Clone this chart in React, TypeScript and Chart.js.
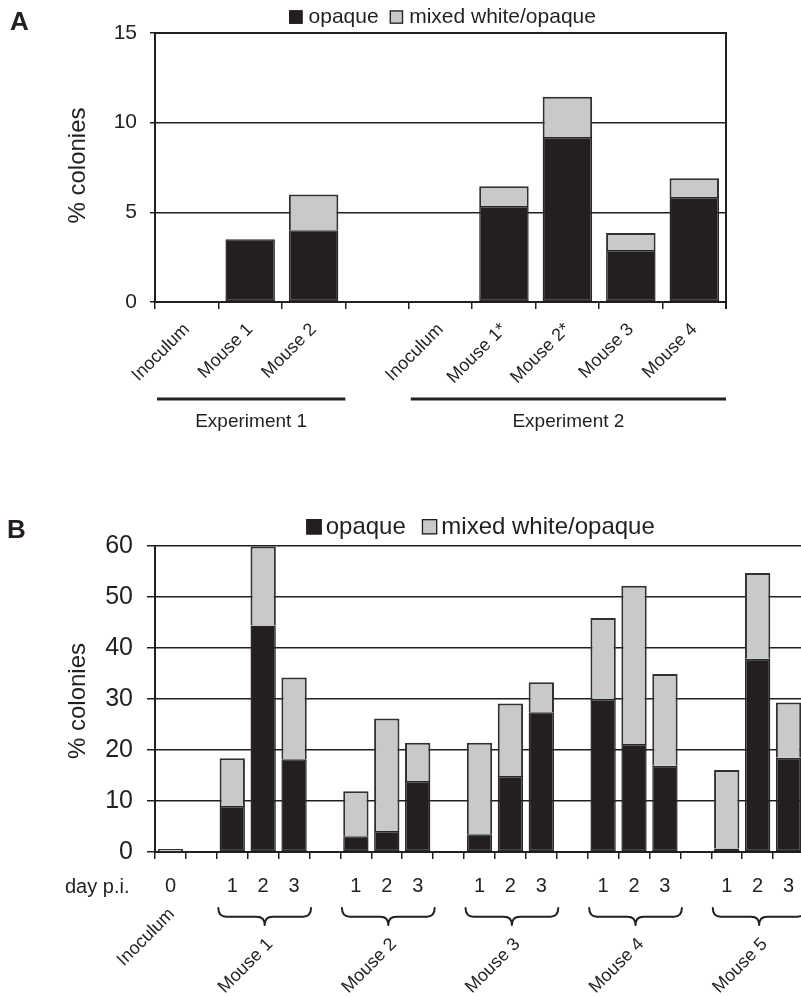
import React, { useEffect, useRef } from 'react';
import { Chart, registerables } from 'chart.js';

Chart.register(...registerables);

const INK = '#231f20';
const GREY = '#c8c9cb';
const FONT = '"Liberation Sans", Arial, Helvetica, sans-serif';

// ---------- Panel A data ----------
const A_CATEGORIES = ['Inoculum', 'Mouse 1', 'Mouse 2', '', 'Inoculum', 'Mouse 1*', 'Mouse 2*', 'Mouse 3', 'Mouse 4'];
const A_OPAQUE = [0, 3.5, 4.0, 0, 0, 5.35, 9.2, 2.9, 5.85];
const A_MIXED = [0, 0, 2.0, 0, 0, 1.1, 2.25, 0.95, 1.05];
const A_Y_TICKS = [0, 5, 10, 15];
const A_EXPERIMENTS = [
  { label: 'Experiment 1', from: 0, to: 2 },
  { label: 'Experiment 2', from: 4, to: 8 },
];

// ---------- Panel B data ----------
const B_CATEGORIES = [
  'Inoculum d0', 'gap1',
  'Mouse 1 d1', 'Mouse 1 d2', 'Mouse 1 d3', 'gap2',
  'Mouse 2 d1', 'Mouse 2 d2', 'Mouse 2 d3', 'gap3',
  'Mouse 3 d1', 'Mouse 3 d2', 'Mouse 3 d3', 'gap4',
  'Mouse 4 d1', 'Mouse 4 d2', 'Mouse 4 d3', 'gap5',
  'Mouse 5 d1', 'Mouse 5 d2', 'Mouse 5 d3',
];
const B_DAY_TICKS = ['0', '', '1', '2', '3', '', '1', '2', '3', '', '1', '2', '3', '', '1', '2', '3', '', '1', '2', '3'];
const B_OPAQUE = [0, 0, 9.0, 44.4, 18.2, 0, 3.1, 4.1, 13.9, 0, 3.5, 14.9, 27.4, 0, 30.0, 21.2, 16.9, 0, 0.7, 37.9, 18.5];
const B_MIXED = [0.6, 0, 9.4, 15.5, 16.0, 0, 8.8, 22.1, 7.5, 0, 17.9, 14.2, 5.9, 0, 15.9, 31.0, 18.0, 0, 15.4, 16.8, 10.8];
const B_Y_TICKS = [0, 10, 20, 30, 40, 50, 60];
const B_INOCULUM = { label: 'Inoculum', index: 0 };
const B_GROUPS = [
  { label: 'Mouse 1', from: 2, to: 4 },
  { label: 'Mouse 2', from: 6, to: 8 },
  { label: 'Mouse 3', from: 10, to: 12 },
  { label: 'Mouse 4', from: 14, to: 16 },
  { label: 'Mouse 5', from: 18, to: 20 },
];

const SERIES = ['opaque', 'mixed white/opaque'];

function makeDatasets(opaque: number[], mixed: number[], barPct: number) {
  return [
    {
      label: SERIES[0], data: opaque, backgroundColor: INK, borderColor: '#2a2728',
      borderWidth: 1.5, borderSkipped: false, stack: 's', barPercentage: barPct, categoryPercentage: 1,
    },
    {
      label: SERIES[1], data: mixed, backgroundColor: GREY, borderColor: '#333032',
      borderWidth: 2, borderSkipped: 'start', stack: 's', barPercentage: barPct, categoryPercentage: 1,
    },
  ];
}

function drawLegend(ctx: CanvasRenderingContext2D, cx: number, baseline: number, px: number, box: number, gapBoxText: number, gapItems: number) {
  ctx.save();
  ctx.font = `${px}px ${FONT}`;
  const w0 = ctx.measureText(SERIES[0]).width;
  const w1 = ctx.measureText(SERIES[1]).width;
  const total = box + gapBoxText + w0 + gapItems + box + gapBoxText + w1;
  let x = cx - total / 2;
  const boxBottom = baseline + 1;
  const fills = [INK, GREY];
  const widths = [w0, w1];
  for (let i = 0; i < 2; i++) {
    ctx.fillStyle = fills[i];
    ctx.fillRect(x, boxBottom - box, box, box);
    ctx.strokeStyle = INK;
    ctx.lineWidth = 1.3;
    ctx.strokeRect(x + 0.65, boxBottom - box + 0.65, box - 1.3, box - 1.3);
    x += box + gapBoxText;
    ctx.fillStyle = INK;
    ctx.textAlign = 'left';
    ctx.textBaseline = 'alphabetic';
    ctx.fillText(SERIES[i], x, baseline);
    x += widths[i] + gapItems;
  }
  ctx.restore();
}

function drawYTitle(ctx: CanvasRenderingContext2D, x: number, cy: number, px: number) {
  ctx.save();
  ctx.translate(x, cy);
  ctx.rotate(-Math.PI / 2);
  ctx.font = `${px}px ${FONT}`;
  ctx.fillStyle = INK;
  ctx.textAlign = 'center';
  ctx.textBaseline = 'alphabetic';
  ctx.fillText('% colonies', 0, 0);
  ctx.restore();
}

function drawLetter(ctx: CanvasRenderingContext2D, letter: string, x: number, baseline: number) {
  ctx.save();
  ctx.font = `bold 26px ${FONT}`;
  ctx.fillStyle = INK;
  ctx.textAlign = 'left';
  ctx.textBaseline = 'alphabetic';
  ctx.fillText(letter, x, baseline);
  ctx.restore();
}

function rotatedLabel(ctx: CanvasRenderingContext2D, text: string, x: number, y: number, px: number) {
  ctx.save();
  ctx.translate(x, y);
  ctx.rotate(-Math.PI / 4);
  ctx.font = `${px}px ${FONT}`;
  ctx.fillStyle = INK;
  ctx.textAlign = 'right';
  ctx.textBaseline = 'alphabetic';
  ctx.fillText(text, 0, 0);
  ctx.restore();
}

function drawBrace(ctx: CanvasRenderingContext2D, x0: number, x1: number, top: number, mid: number, tip: number) {
  const cx = (x0 + x1) / 2;
  const r = 8;
  ctx.save();
  ctx.strokeStyle = INK;
  ctx.lineWidth = 2;
  ctx.lineJoin = 'round';
  ctx.lineCap = 'round';
  ctx.beginPath();
  ctx.moveTo(x0, top);
  ctx.quadraticCurveTo(x0, mid, x0 + r, mid);
  ctx.lineTo(cx - r, mid);
  ctx.quadraticCurveTo(cx, mid, cx, tip);
  ctx.quadraticCurveTo(cx, mid, cx + r, mid);
  ctx.lineTo(x1 - r, mid);
  ctx.quadraticCurveTo(x1, mid, x1, top);
  ctx.stroke();
  ctx.restore();
}

const decorA = {
  id: 'decorA',
  afterDraw(chart: any) {
    const { ctx, chartArea } = chart;
    const xs = chart.scales.x;
    const half = (xs.getPixelForValue(1) - xs.getPixelForValue(0)) / 2;
    ctx.save();
    ctx.strokeStyle = INK;
    ctx.lineWidth = 2;
    ctx.beginPath();
    ctx.moveTo(chartArea.left, chartArea.top);
    ctx.lineTo(chartArea.right, chartArea.top);
    ctx.lineTo(chartArea.right, chartArea.bottom + 7);
    ctx.stroke();
    ctx.restore();

    drawLegend(ctx, (chartArea.left + chartArea.right) / 2 + 2, 22.8, 21, 13.5, 6, 11);
    drawYTitle(ctx, 85, (chartArea.top + chartArea.bottom) / 2 - 2, 24);
    drawLetter(ctx, 'A', 10, 29.5);

    A_EXPERIMENTS.forEach((e) => {
      const x0 = xs.getPixelForValue(e.from) - half + 2;
      const x1 = xs.getPixelForValue(e.to) + half;
      ctx.save();
      ctx.strokeStyle = INK;
      ctx.lineWidth = 3;
      ctx.beginPath();
      ctx.moveTo(x0, 399);
      ctx.lineTo(x1, 399);
      ctx.stroke();
      ctx.font = `19px ${FONT}`;
      ctx.fillStyle = INK;
      ctx.textAlign = 'center';
      ctx.textBaseline = 'alphabetic';
      ctx.fillText(e.label, (x0 + x1) / 2, 427);
      ctx.restore();
    });
  },
};

const decorB = {
  id: 'decorB',
  afterDraw(chart: any) {
    const { ctx, chartArea } = chart;
    const xs = chart.scales.x;
    const half = (xs.getPixelForValue(1) - xs.getPixelForValue(0)) / 2;

    drawLegend(ctx, (chartArea.left + chartArea.right) / 2 + 1, 83.5, 24, 15.5, 4, 16);
    drawYTitle(ctx, 85, (chartArea.top + chartArea.bottom) / 2 + 2, 24);
    drawLetter(ctx, 'B', 7, 88.3);

    ctx.save();
    ctx.font = `20px ${FONT}`;
    ctx.fillStyle = INK;
    ctx.textAlign = 'left';
    ctx.textBaseline = 'alphabetic';
    ctx.fillText('day p.i.', 65, 442.7);
    ctx.restore();

    rotatedLabel(ctx, B_INOCULUM.label, xs.getPixelForValue(B_INOCULUM.index) + 5, 465, 18);

    B_GROUPS.forEach((g) => {
      const x0 = xs.getPixelForValue(g.from) - half + 1.5;
      const x1 = xs.getPixelForValue(g.to) + half + 1.5;
      drawBrace(ctx, x0, x1, 458, 466.7, 475);
      const cx = (xs.getPixelForValue(g.from) + xs.getPixelForValue(g.to)) / 2;
      rotatedLabel(ctx, g.label, cx + 10.5, 495, 18);
    });
  },
};

function yTicksSetter(values: number[]) {
  return (scale: any) => {
    scale.ticks = values.map((v) => ({ value: v }));
  };
}

export default function App() {
  const refA = useRef<HTMLCanvasElement | null>(null);
  const refB = useRef<HTMLCanvasElement | null>(null);

  useEffect(() => {
    Chart.defaults.font.family = FONT;
    Chart.defaults.color = INK;

    const chartA = new Chart(refA.current as HTMLCanvasElement, {
      type: 'bar',
      data: { labels: A_CATEGORIES, datasets: makeDatasets(A_OPAQUE, A_MIXED, 0.78) as any },
      options: {
        responsive: false,
        animation: false,
        devicePixelRatio: 1,
        layout: { padding: { top: 33, right: 75, bottom: 0, left: 0 } },
        plugins: { legend: { display: false }, tooltip: { enabled: false } },
        scales: {
          x: {
            stacked: true,
            offset: true,
            grid: { display: true, drawOnChartArea: false, drawTicks: true, tickLength: 7, offset: true, color: INK, lineWidth: 1.5 },
            border: { display: true, color: INK, width: 2 },
            ticks: { autoSkip: false, minRotation: 45, maxRotation: 45, padding: 10, color: INK, font: { size: 18, family: FONT } },
            afterFit: (s: any) => { s.height = 148; },
          },
          y: {
            stacked: true,
            min: 0,
            max: 15,
            afterBuildTicks: yTicksSetter(A_Y_TICKS),
            grid: { display: true, drawTicks: true, tickLength: 5, color: INK, lineWidth: 1.5 },
            border: { display: true, color: INK, width: 2 },
            ticks: { padding: 13, color: INK, font: { size: 21, family: FONT } },
            afterFit: (s: any) => { s.width = 155; },
          },
        },
      } as any,
      plugins: [decorA],
    });

    const chartB = new Chart(refB.current as HTMLCanvasElement, {
      type: 'bar',
      data: { labels: B_CATEGORIES, datasets: makeDatasets(B_OPAQUE, B_MIXED, 0.82) as any },
      options: {
        responsive: false,
        animation: false,
        devicePixelRatio: 1,
        layout: { padding: { top: 96, right: 26, bottom: 0, left: 0 } },
        plugins: { legend: { display: false }, tooltip: { enabled: false } },
        scales: {
          x: {
            stacked: true,
            offset: true,
            grid: { display: true, drawOnChartArea: false, drawTicks: true, tickLength: 7, offset: true, color: INK, lineWidth: 1.5 },
            border: { display: true, color: INK, width: 2 },
            ticks: {
              autoSkip: false, minRotation: 0, maxRotation: 0, padding: 15, color: INK,
              font: { size: 20, family: FONT },
              callback: (_v: any, i: number) => B_DAY_TICKS[i],
            },
            afterFit: (s: any) => { s.height = 144; },
          },
          y: {
            stacked: true,
            min: 0,
            max: 60,
            afterBuildTicks: yTicksSetter(B_Y_TICKS),
            grid: { display: true, drawTicks: true, tickLength: 8, color: INK, lineWidth: 1.5 },
            border: { display: true, color: INK, width: 2 },
            ticks: { padding: 14, color: INK, font: { size: 25, family: FONT } },
            afterFit: (s: any) => { s.width = 155; },
          },
        },
      } as any,
      plugins: [decorB],
    });

    return () => {
      chartA.destroy();
      chartB.destroy();
    };
  }, []);

  return (
    <div style={{ position: 'absolute', left: 0, top: 0, width: 801, height: 996, overflow: 'hidden', background: '#ffffff' }}>
      <canvas ref={refA} width={801} height={450} style={{ position: 'absolute', left: 0, top: 0, display: 'block' }} />
      <canvas ref={refB} width={830} height={546} style={{ position: 'absolute', left: 0, top: 450, display: 'block' }} />
    </div>
  );
}
